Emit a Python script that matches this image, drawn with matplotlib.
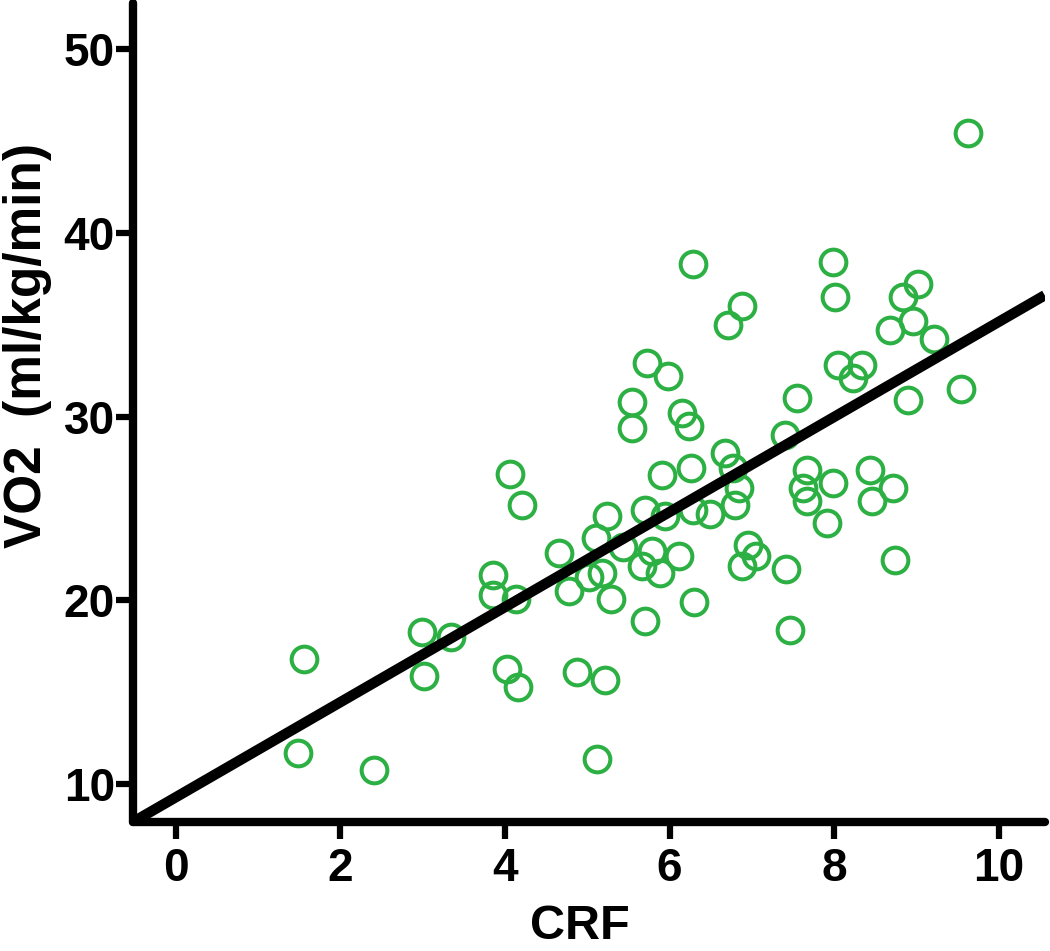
import matplotlib
matplotlib.use("Agg")
import matplotlib.pyplot as plt
import numpy as np

plt.rcParams['font.family'] = ['Liberation Sans', 'DejaVu Sans']
plt.rcParams['font.weight'] = 'bold'

# CRF vs VO2 values
crf = [9.63, 1.56, 1.49, 2.41, 2.99, 3.01, 3.34, 3.85, 3.85, 4.13,
       4.06, 4.21, 4.02, 4.16, 4.66, 4.78, 4.88, 5.22, 5.12, 5.11,
       5.24, 5.43, 5.02, 5.18, 5.29, 5.70, 5.66, 5.79, 5.88, 6.12,
       6.30, 5.70, 5.94, 6.28, 6.49, 6.80, 5.91, 6.26, 6.67, 6.77,
       6.85, 6.15, 6.24, 5.54, 5.54, 5.73, 5.98, 6.29, 6.71, 6.88,
       6.95, 7.05, 6.88, 7.41, 7.46, 7.40, 7.55, 7.67, 7.62, 7.67,
       7.99, 7.91, 8.44, 8.71, 8.46, 8.74, 8.05, 8.34, 8.23, 7.99,
       8.01, 9.02, 8.84, 8.96, 8.68, 9.21, 8.90, 9.54]
vo2 = [45.4, 16.8, 11.7, 10.8, 18.3, 15.9, 18.0, 21.4, 20.3, 20.1,
       26.9, 25.2, 16.3, 15.3, 22.6, 20.5, 16.1, 15.7, 11.4, 23.4,
       24.6, 22.9, 21.3, 21.5, 20.1, 18.9, 21.9, 22.7, 21.5, 22.4,
       19.9, 24.9, 24.6, 24.9, 24.7, 25.2, 26.8, 27.2, 28.0, 27.2,
       26.1, 30.2, 29.5, 30.8, 29.4, 32.9, 32.2, 38.3, 35.0, 36.0,
       23.0, 22.4, 21.9, 21.7, 18.4, 29.0, 31.0, 27.1, 26.1, 25.4,
       26.4, 24.2, 27.1, 26.1, 25.4, 22.2, 32.8, 32.8, 32.1, 38.4,
       36.5, 37.2, 36.5, 35.2, 34.7, 34.2, 30.9, 31.5]

# fitted line
intercept = 9.3
slope = 2.585
x_min, x_max = -0.52, 10.56
y_min, y_max = 7.95, 52.5

fig = plt.figure(figsize=(10.5, 9.51), dpi=100)
ax = fig.add_axes([0.1267, 0.1356, 0.8683, 0.8614])

ax.plot(crf, vo2, 'o', ms=18.5, mfc='none', mec='#2DB043', mew=2.9, zorder=2)
line_x = np.array([x_min, x_max])
ax.plot(line_x, intercept + slope * line_x, color='black', lw=7.5,
        solid_capstyle='butt', zorder=3)

ax.set_xlim(x_min, x_max)
ax.set_ylim(y_min, y_max)
ax.set_xticks([0, 2, 4, 6, 8, 10])
ax.set_yticks([10, 20, 30, 40, 50])

for side in ['top', 'right']:
    ax.spines[side].set_visible(False)
for side in ['left', 'bottom']:
    ax.spines[side].set_linewidth(6)
    ax.spines[side].set_capstyle('round')

ax.tick_params(axis='both', direction='out', length=12, width=4.5,
               labelsize=33)
ax.tick_params(axis='y', pad=1)
ax.tick_params(axis='x', pad=6)
for lbl in ax.get_xticklabels() + ax.get_yticklabels():
    lbl.set_fontweight('bold')

ax.set_xlabel('CRF', fontsize=35, fontweight='bold')
ax.set_ylabel('VO2  (ml/kg/min)', fontsize=37, fontweight='bold')
ax.xaxis.set_label_coords(0.49, -0.100)
ax.yaxis.set_label_coords(-0.089, 0.582)

fig.savefig('out.png', dpi=100)
